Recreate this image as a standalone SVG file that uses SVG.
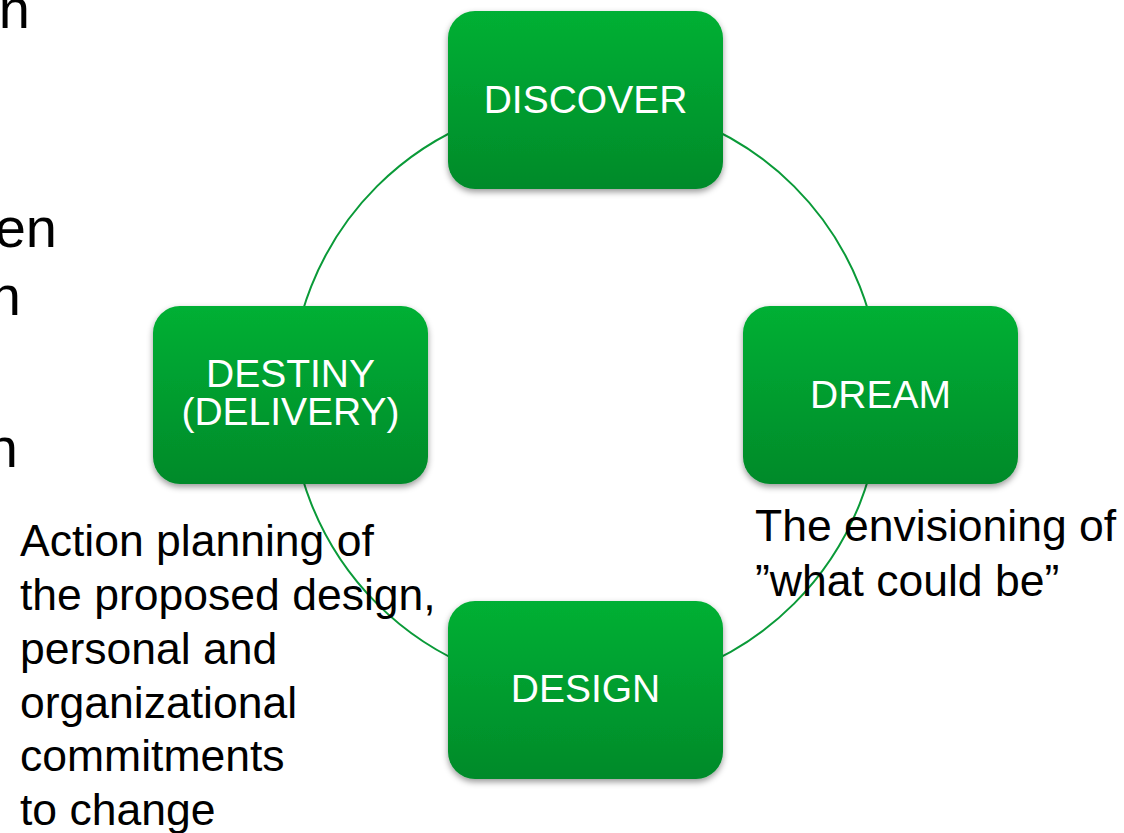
<svg xmlns="http://www.w3.org/2000/svg" width="1124" height="833" viewBox="0 0 1124 833">
<style>
.box{fill:url(#g);filter:url(#sh)}
.lbl{font-family:"Liberation Sans",Arial,sans-serif;font-size:39px;fill:#fff;text-anchor:middle}
.body{font-family:"Liberation Sans",Arial,sans-serif;font-size:44.5px;fill:#000}
.edge{font-family:"Liberation Sans",Arial,sans-serif;font-size:56px;fill:#000;text-anchor:end}
.ring{fill:none;stroke:#0a9a38;stroke-width:2}
</style>
<defs>
<linearGradient id="g" x1="0" y1="0" x2="0" y2="1">
<stop offset="0" stop-color="#00b034"/>
<stop offset="1" stop-color="#058a2a"/>
</linearGradient>
<filter id="sh" x="-10%" y="-10%" width="120%" height="125%">
<feDropShadow dx="0" dy="3" stdDeviation="3" flood-color="#000" flood-opacity="0.4"/>
</filter>
</defs>
<rect width="1124" height="833" fill="#fff"/>
<g id="edge-text">
<text class="edge" x="30" y="28">n</text>
<text class="edge" x="57" y="247">en</text>
<text class="edge" x="21" y="315">n</text>
<text class="edge" x="18" y="467">n</text>
</g>
<g id="connectors">
<circle class="ring" cx="585.5" cy="395" r="295"/>
</g>
<g id="discover">
<rect class="box" x="448" y="11" width="275" height="178" rx="27"/>
<text class="lbl" x="585.5" y="113">DISCOVER</text>
</g>
<g id="dream">
<rect class="box" x="743" y="306" width="275" height="178" rx="27"/>
<text class="lbl" x="880.5" y="408">DREAM</text>
</g>
<g id="design">
<rect class="box" x="448" y="601" width="275" height="178" rx="27"/>
<text class="lbl" x="585.5" y="702">DESIGN</text>
</g>
<g id="destiny">
<rect class="box" x="153" y="306" width="275" height="178" rx="27"/>
<text class="lbl" x="290.5" y="387">DESTINY</text>
<text class="lbl" x="290.5" y="425">(DELIVERY)</text>
</g>
<g id="destiny-note">
<text class="body" x="20" y="556">Action planning of</text>
<text class="body" x="20" y="610">the proposed design,</text>
<text class="body" x="20" y="664">personal and</text>
<text class="body" x="20" y="718">organizational</text>
<text class="body" x="20" y="771">commitments</text>
<text class="body" x="20" y="825">to change</text>
</g>
<g id="dream-note">
<text class="body" x="755" y="541">The envisioning of</text>
<text class="body" x="755" y="596">”what could be”</text>
</g>
</svg>
